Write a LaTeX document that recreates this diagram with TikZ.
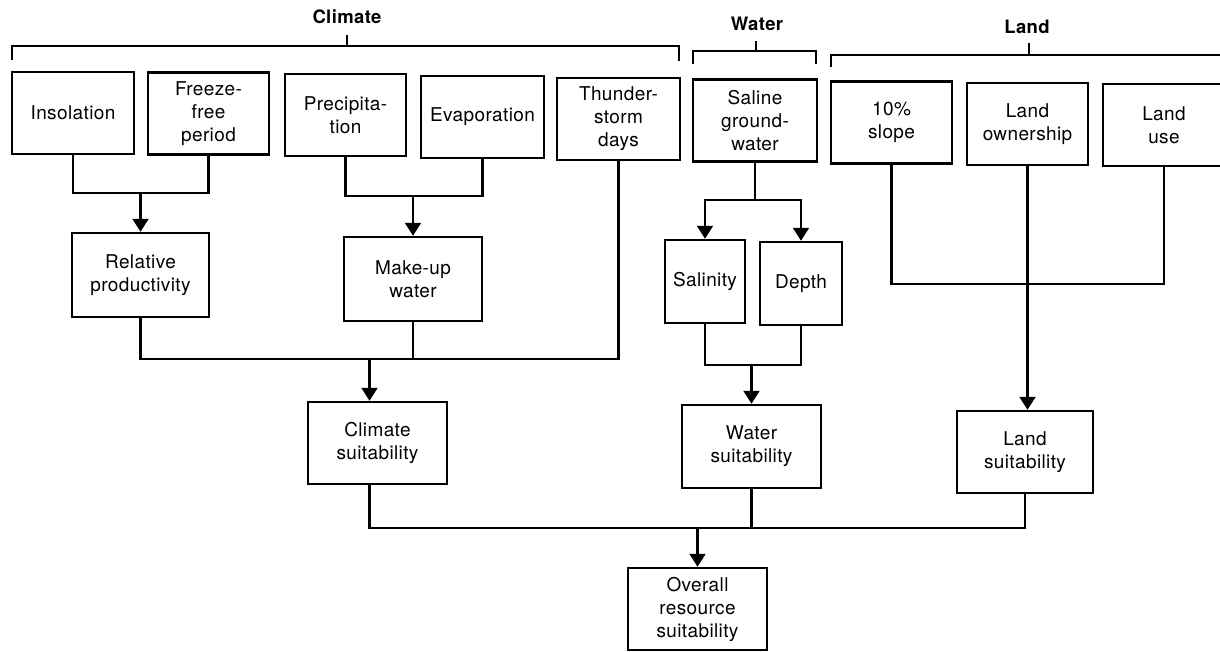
\documentclass[tikz,border=0pt]{standalone}
\usepackage{fontspec}
\setmainfont[LetterSpace=2]{TeX Gyre Heros}
\usetikzlibrary{arrows.meta}
\tikzset{
  box/.style={draw, line width=2.5pt, align=center, inner sep=0pt, minimum height=82pt,
    font=\fontsize{19}{23}\selectfont},
  wire/.style={line width=2.1pt},
  arr/.style={wire, -{Triangle[width=16pt,length=13pt]}},
  head/.style={font=\fontsize{18.5}{21}\selectfont\bfseries},
}
\begin{document}
\begin{tikzpicture}[x=1pt,y=1pt,yscale=-1,xscale=1]
\useasboundingbox (0,0) rectangle (1220,651);

% Text Node
\node [head] (climT) at (347,17) {Climate};
\node [head] (watT) at (757,24) {Water};
\node [head] (lanT) at (1027,27) {Land};
%Brackets
\draw [wire] (12,60) |- (679,46) -- (679,61);
\draw [wire] (347,46) -- (347,35);
\draw [wire] (693,64) |- (816,51) -- (816,64);
\draw [wire] (756,51) -- (756,41);
\draw [wire] (831,67) |- (1225,55);
\draw [wire] (1029,55) -- (1029,43);

%Shape: Rectangle (first row)
\node [box, minimum width=122pt] (ins) at (73,113) {Insolation};
\node [box, minimum width=121pt] (frz) at (208.5,113.5) {Freeze-\\free\\period};
\node [box, minimum width=121pt] (pre) at (345.5,115) {Precipita-\\tion};
\node [box, minimum width=123pt] (eva) at (482.5,117) {Evaporation};
\node [box, minimum width=123pt] (thu) at (618.5,119) {Thunder-\\storm\\days};
\node [box, minimum width=124pt] (sal) at (755,120.5) {Saline\\ground-\\water};
\node [box, minimum width=121pt] (slo) at (891.5,122.5) {10\%\\slope};
\node [box, minimum width=121pt] (own) at (1027.5,124) {Land\\ownership};
\node [box, minimum width=122pt] (use) at (1164,125) {Land\\use};

%Shape: Rectangle (second row)
\node [box, minimum width=137pt, minimum height=84pt] (rp) at (140.5,275) {Relative\\productivity};
\node [box, minimum width=138pt, minimum height=84pt] (mw) at (413,279) {Make-up\\water};
\node [box, minimum width=80pt, minimum height=83pt] (sty) at (705,281.5) {Salinity};
\node [box, minimum width=82pt, minimum height=83pt] (dep) at (801,283.5) {Depth};

%Shape: Rectangle (third row)
\node [box, minimum width=139pt] (cs) at (377.5,443) {Climate\\suitability};
\node [box, minimum width=139pt, minimum height=83pt] (ws) at (751.5,446.5) {Water\\suitability};
\node [box, minimum width=136pt] (ls) at (1025,452) {Land\\suitability};
\node [box, minimum width=139pt] (ovr) at (697.5,609) {Overall\\resource\\suitability};

%Merge levels
\coordinate (m1) at (0,193);
\coordinate (m2) at (0,196);
\coordinate (m3) at (0,359);
\coordinate (m4) at (0,200);
\coordinate (m5) at (0,365);
\coordinate (m6) at (0,284);
\coordinate (m7) at (0,528);

%Straight Lines
\draw [wire] (ins.south) |- (frz.south |- m1) -- (frz.south);
\draw [arr] (rp.north |- m1) -- (rp.north);
\draw [wire] (pre.south) |- (eva.south |- m2) -- (eva.south);
\draw [arr] (mw.north |- m2) -- (mw.north);
\draw [wire] (rp.south) |- (thu.south |- m3) -- (thu.south);
\draw [wire] (mw.south) -- (mw.south |- m3);
\draw [arr] ([xshift=-8pt]cs.north |- m3) -- ([xshift=-8pt]cs.north);
\draw [wire] (sal.south) -- (sal.south |- m4);
\draw [arr] (sal.south |- m4) -| (sty.north);
\draw [arr] (sal.south |- m4) -| (dep.north);
\draw [wire] (sty.south) |- (dep.south |- m5) -- (dep.south);
\draw [arr] (ws.north |- m5) -- (ws.north);
\draw [wire] (slo.south) |- (use.south |- m6) -- (use.south);
\draw [arr] (own.south) -- (own.south |- ls.north);
\draw [wire] ([xshift=-8pt]cs.south) |- (ls.south |- m7) -- (ls.south);
\draw [wire] (ws.south) -- (ws.south |- m7);
\draw [arr] (ovr.north |- m7) -- (ovr.north);

\end{tikzpicture}
\end{document}
